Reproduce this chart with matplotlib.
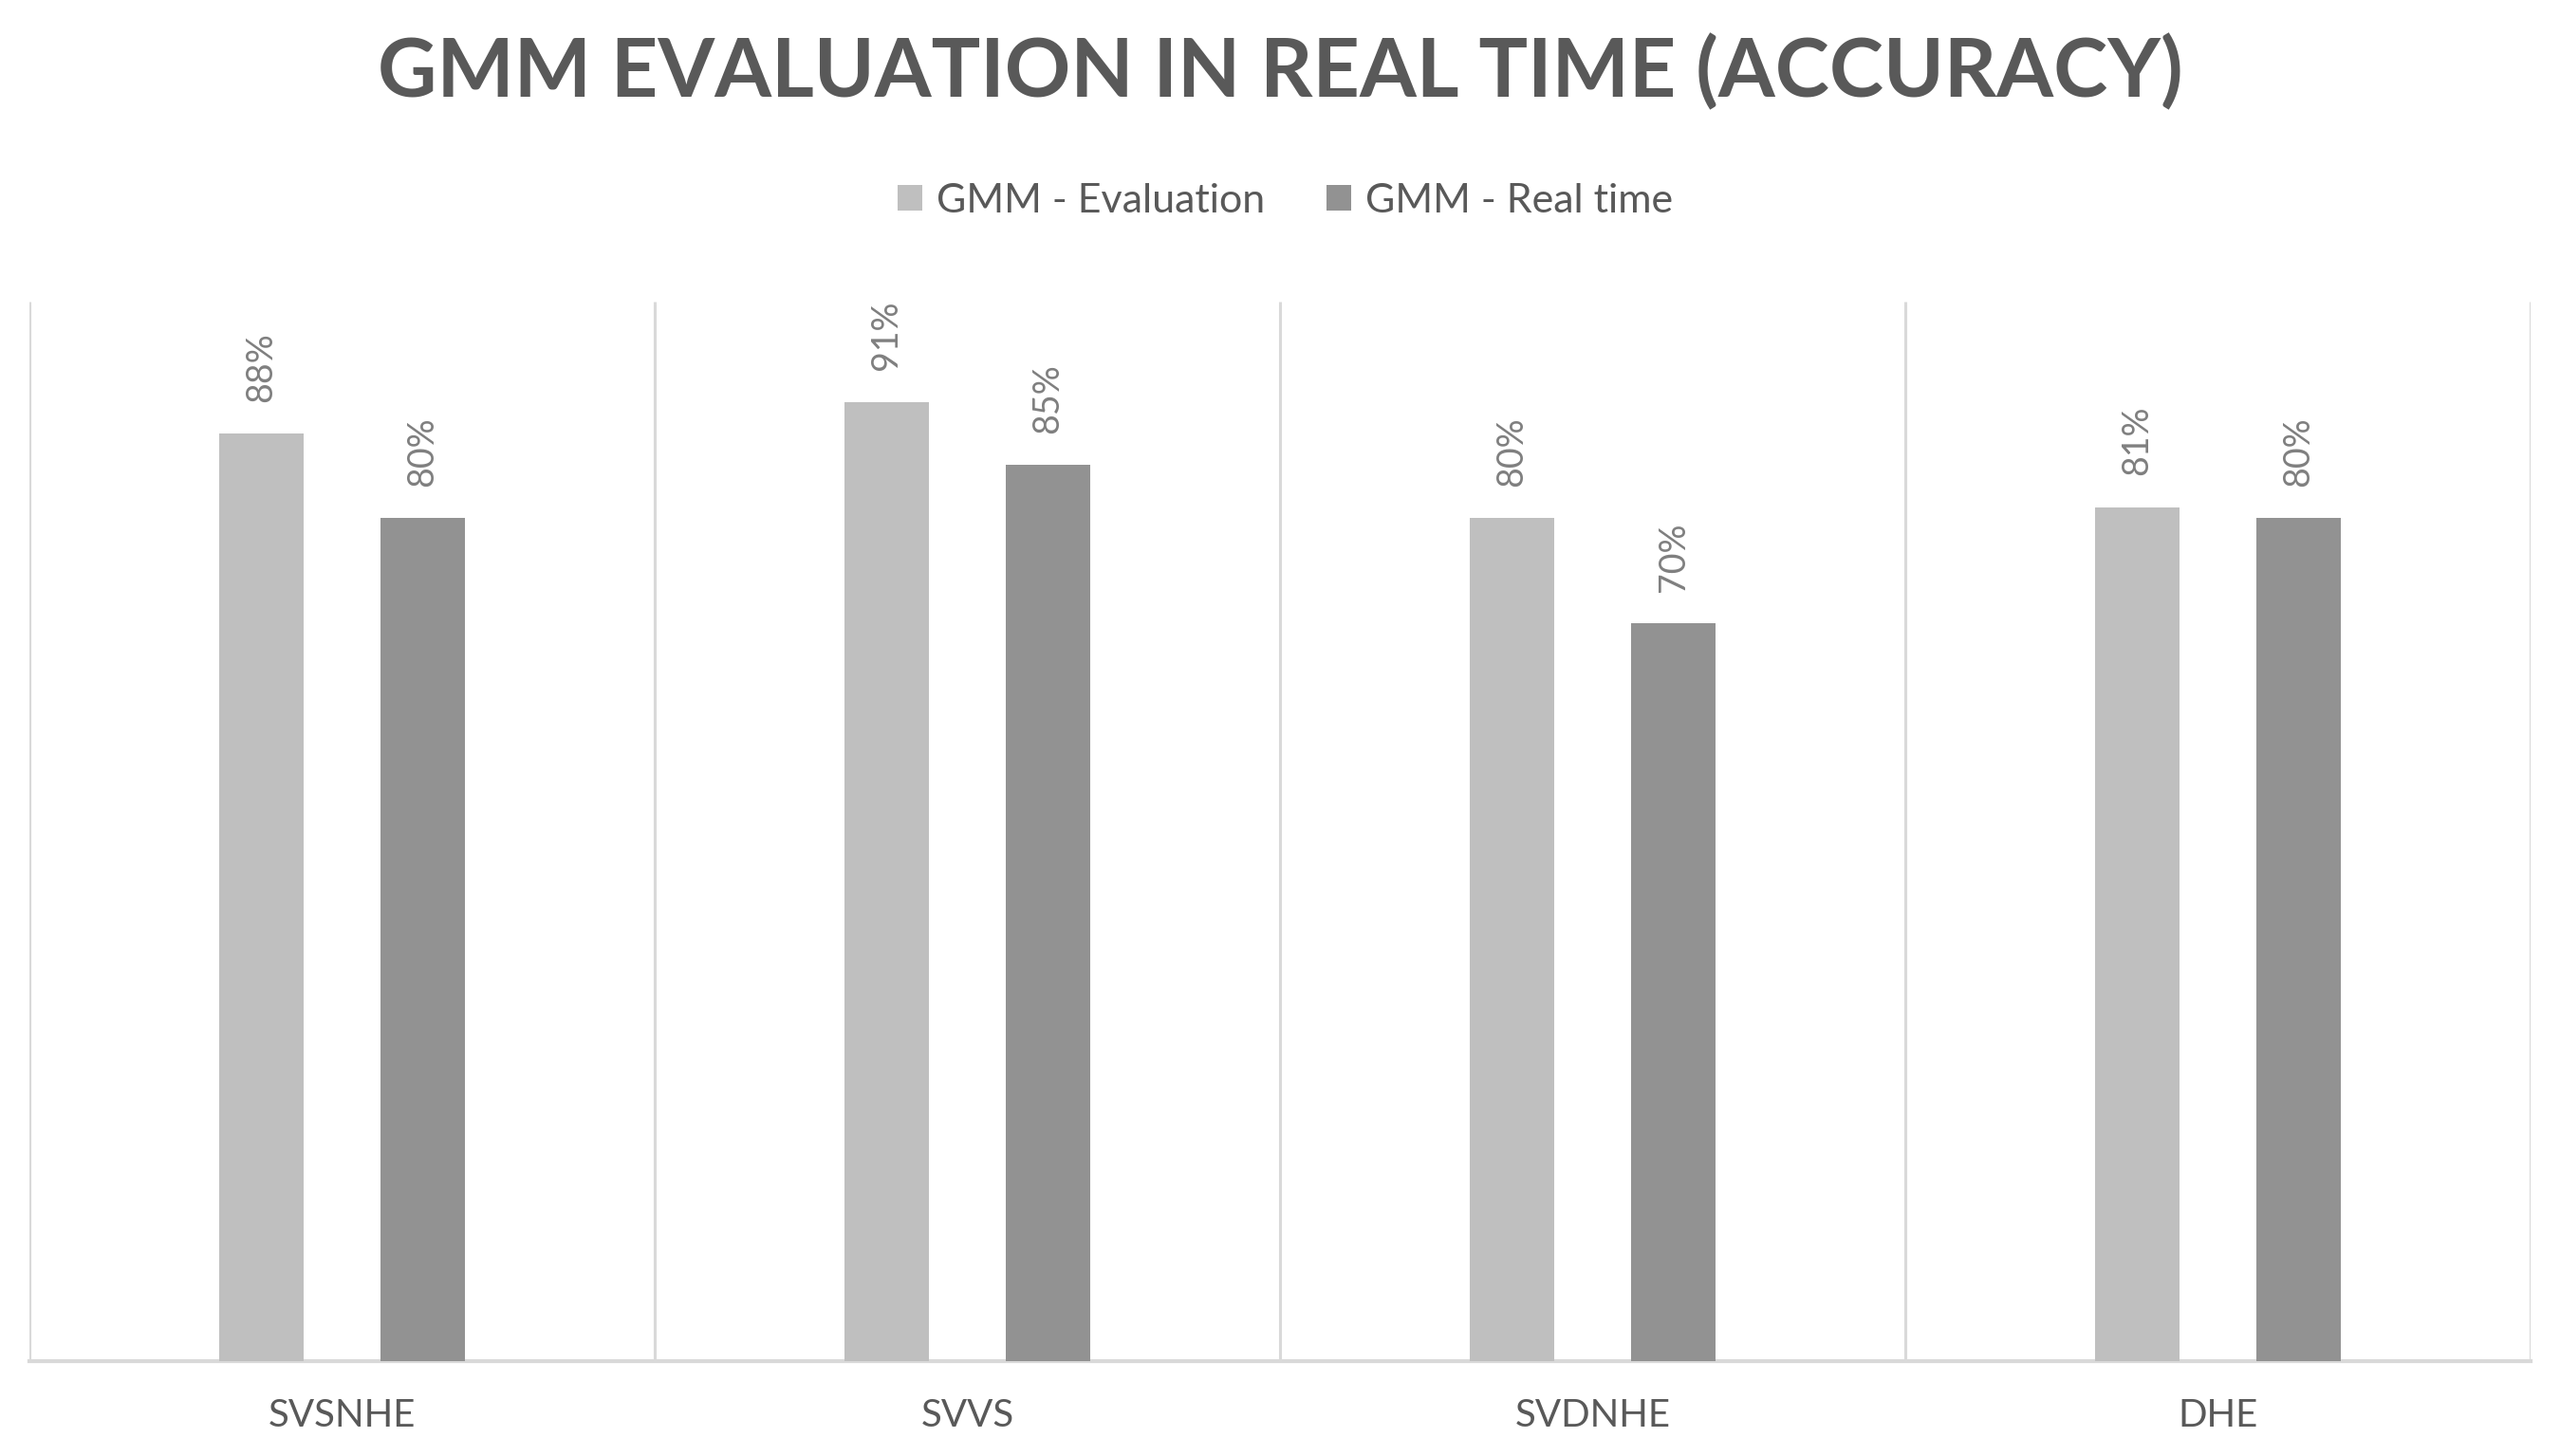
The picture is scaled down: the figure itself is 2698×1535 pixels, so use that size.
import matplotlib
matplotlib.use("Agg")
import matplotlib.pyplot as plt
from matplotlib import font_manager

categories = ["SVSNHE", "SVVS", "SVDNHE", "DHE"]
series_names = ["GMM - Evaluation", "GMM - Real time"]
evaluation = [88, 91, 80, 81]
real_time = [80, 85, 70, 80]
title = "GMM EVALUATION IN REAL TIME (ACCURACY)"

colors = ["#bfbfbf", "#929292"]
names = {f.name for f in font_manager.fontManager.ttflist}
fam = [f for f in ["Liberation Sans Narrow", "Lato", "Liberation Sans", "DejaVu Sans"] if f in names]
plt.rcParams["font.family"] = fam

W, H, DPI = 2698, 1535, 100
fig = plt.figure(figsize=(W / DPI, H / DPI), dpi=DPI)
ax = fig.add_axes([31 / W, 1 - 1435 / H, (2667 - 31) / W, (1435 - 318) / H])

x = list(range(len(categories)))
off, bw = 0.129, 0.135
b1 = ax.bar([i - off for i in x], evaluation, bw, color=colors[0], label=series_names[0], zorder=3)
b2 = ax.bar([i + off for i in x], real_time, bw, color=colors[1], label=series_names[1], zorder=3)

for bars, vals in ((b1, evaluation), (b2, real_time)):
    for r, v in zip(bars, vals):
        ax.annotate(f"{v}%", (r.get_x() + r.get_width() / 2, r.get_height()),
                    xytext=(0, 24), textcoords="offset points", rotation=90,
                    ha="center", va="bottom", fontsize=27, color="#7f7f7f")

ax.set_xlim(-0.5, len(categories) - 0.5)
ax.set_ylim(0, 100.5)
ax.vlines([i - 0.5 for i in range(len(categories) + 1)], 0, 100.5, color="#d9d9d9", lw=2.2, zorder=1)
for s in ["top", "left", "right"]:
    ax.spines[s].set_visible(False)
ax.spines["bottom"].set_color("#d9d9d9")
ax.spines["bottom"].set_linewidth(3)
ax.set_yticks([])
ax.set_xticks(x)
ax.set_xticklabels(categories, fontsize=29, color="#595959")
ax.tick_params(axis="x", length=0, pad=28)

fig.text(0.5, 1 - 77 / H, title, ha="center", va="center", fontsize=62,
         fontweight="bold", color="#595959")

fig.legend(handles=[b1, b2], loc="center", bbox_to_anchor=(0.502, 1 - 212 / H), ncol=2,
           frameon=False, fontsize=31, handlelength=0.6, handleheight=0.6,
           handletextpad=0.35, columnspacing=1.5, labelcolor="#595959")

fig.savefig("out.png", dpi=DPI, facecolor="white")
